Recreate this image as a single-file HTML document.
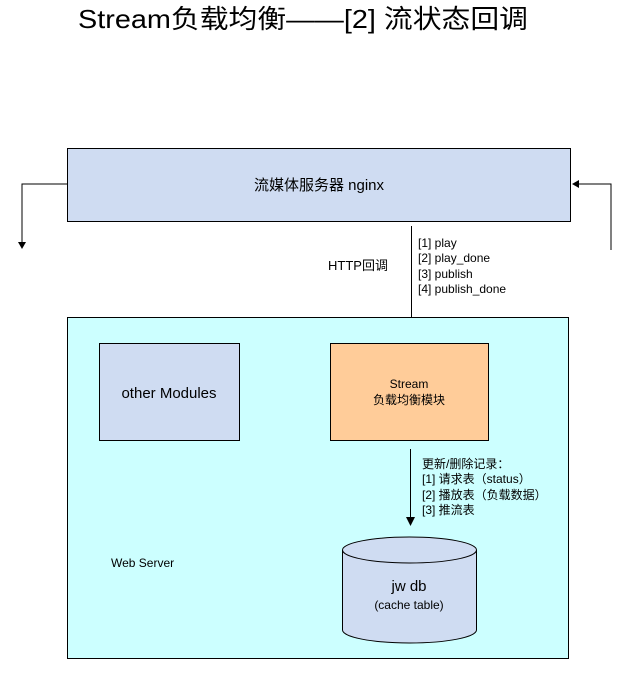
<!DOCTYPE html>
<html><head><meta charset="utf-8"><style>
html,body{margin:0;padding:0;background:#fff;}
svg{display:block;}
text{font-family:"Liberation Sans","Noto Sans CJK SC",sans-serif;fill:#000;}
</style></head><body>
<svg width="622" height="676" viewBox="0 0 622 676" xmlns="http://www.w3.org/2000/svg">
<text x="78" y="28" font-size="26" textLength="450" lengthAdjust="spacingAndGlyphs">Stream负载均衡——[2] 流状态回调</text>

<rect x="67.5" y="148.5" width="503" height="73" fill="#cfdcf2" stroke="#000" stroke-width="1"/>
<text x="319" y="190" font-size="15" text-anchor="middle">流媒体服务器 nginx</text>

<polyline points="67,184 22,184 22,243" fill="none" stroke="#000"/>
<polygon points="18,242 26,242 22,249" fill="#000"/>
<polyline points="611,250 611,184 578,184" fill="none" stroke="#000"/>
<polygon points="572,184 579,180 579,188" fill="#000"/>

<line x1="411.5" y1="226" x2="411.5" y2="336" stroke="#000"/>
<polygon points="407,334 416,334 411.5,343" fill="#000"/>
<text x="328" y="270" font-size="13">HTTP回调</text>
<text x="418" y="247" font-size="12">[1] play</text>
<text x="418" y="262" font-size="12">[2] play_done</text>
<text x="418" y="278" font-size="12">[3] publish</text>
<text x="418" y="293" font-size="12">[4] publish_done</text>

<rect x="67.5" y="317.5" width="501" height="341" fill="#ccffff" stroke="#000"/>
<rect x="99.5" y="343.5" width="140" height="97" fill="#cfdcf2" stroke="#000"/>
<text x="169" y="398" font-size="15" text-anchor="middle">other Modules</text>
<rect x="330.5" y="343.5" width="158" height="97" fill="#ffcc99" stroke="#000"/>
<text x="409" y="388" font-size="12" text-anchor="middle">Stream</text>
<text x="409" y="404" font-size="12" text-anchor="middle">负载均衡模块</text>

<line x1="410.5" y1="449" x2="410.5" y2="518" stroke="#000"/>
<polygon points="406,517 415,517 410.5,526" fill="#000"/>
<text x="422" y="468" font-size="12">更新/删除记录：</text>
<text x="422" y="483" font-size="12">[1] 请求表（status）</text>
<text x="422" y="499" font-size="12">[2] 播放表（负载数据）</text>
<text x="422" y="514" font-size="12">[3] 推流表</text>

<text x="111" y="567" font-size="12">Web Server</text>

<path d="M342.5,550 L342.5,630 A67,13 0 0 0 476.5,630 L476.5,550" fill="#cfdcf2" stroke="#000"/>
<ellipse cx="409.5" cy="550" rx="67" ry="13" fill="#cfdcf2" stroke="#000"/>
<text x="409" y="591" font-size="15" text-anchor="middle">jw db</text>
<text x="409" y="609" font-size="12" text-anchor="middle">(cache table)</text>
</svg>
</body></html>
